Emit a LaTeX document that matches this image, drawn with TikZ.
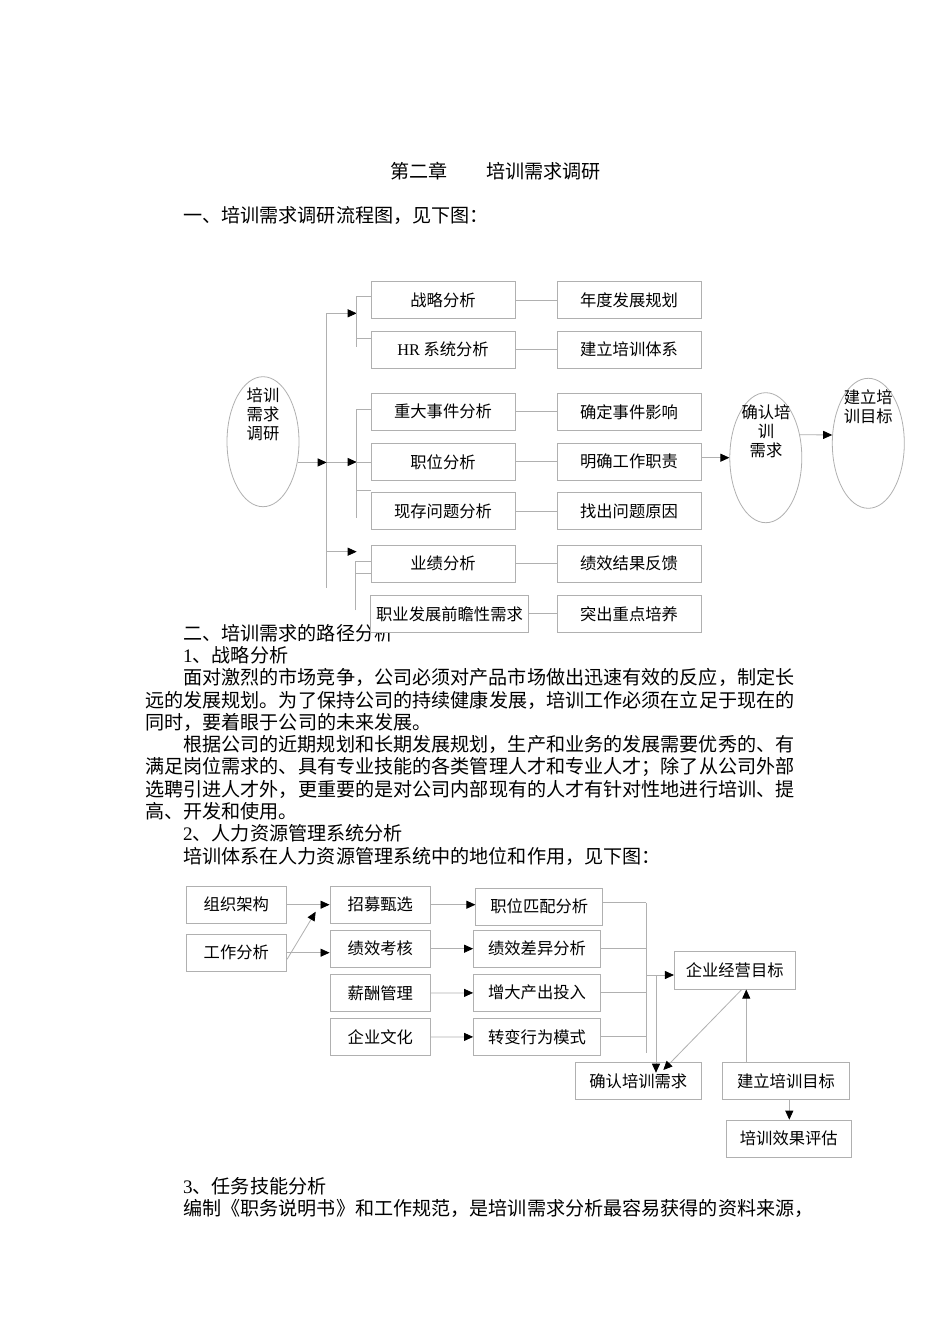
\documentclass[tikz,border=0pt]{standalone}
\usepackage{fontspec}
\setmainfont{Liberation Serif}
\newfontfamily\cjk{Noto Sans CJK SC}
\usetikzlibrary{arrows.meta,shapes.geometric}
\definecolor{linegray}{RGB}{176,176,176}
\newcommand\latn[1]{{\rmfamily #1}}
\tikzset{
  body/.style={anchor=west,inner sep=0pt,font=\cjk\fontsize{19.1}{22}\selectfont},
  stepbox/.style={draw=linegray,fill=white,line width=0.8pt,inner sep=0pt,minimum width=144pt,minimum height=36.7pt,font=\cjk\fontsize{16.3}{19}\selectfont},
  hrbox/.style={stepbox,minimum width=100.7pt,minimum height=37.3pt},
  resultbox/.style={stepbox,minimum width=127pt,minimum height=37.3pt},
  oval/.style={ellipse,draw=linegray,line width=0.8pt,minimum width=72pt,minimum height=130pt,inner sep=0pt},
  ovaltext/.style={align=center,inner sep=0pt,font=\cjk\fontsize{16.3}{19}\selectfont},
  link/.style={draw=linegray,line width=0.8pt},
  arr/.style={link,-{Triangle[length=9pt,width=8pt,color=black]}}
}
\begin{document}
\begin{tikzpicture}[x=1pt,y=-1pt]
  \fill[white] (0,0) rectangle (950,1344);
  \useasboundingbox (0,0) rectangle (950,1344);
  % page text
  \node[body] (title) at (390,171) {第二章\hspace{39pt}培训需求调研};
  \node[body] (head1) at (183,215) {一、培训需求调研流程图，见下图：};
  \node[body] (head2) at (183,633) {二、培训需求的路径分析};
  \node[body] (sec1) at (183,655.3) {\latn{1}、战略分析};
  \node[body] (par1a) at (183,677.6) {面对激烈的市场竞争，公司必须对产品市场做出迅速有效的反应，制定长};
  \node[body] (par1b) at (145,699.9) {远的发展规划。为了保持公司的持续健康发展，培训工作必须在立足于现在的};
  \node[body] (par1c) at (145,722.2) {同时，要着眼于公司的未来发展。};
  \node[body] (par2a) at (183,744.5) {根据公司的近期规划和长期发展规划，生产和业务的发展需要优秀的、有};
  \node[body] (par2b) at (145,766.8) {满足岗位需求的、具有专业技能的各类管理人才和专业人才；除了从公司外部};
  \node[body] (par2c) at (145,789.1) {选聘引进人才外，更重要的是对公司内部现有的人才有针对性地进行培训、提};
  \node[body] (par2d) at (145,811.4) {高、开发和使用。};
  \node[body] (sec2) at (183,833.7) {\latn{2}、人力资源管理系统分析};
  \node[body] (par3) at (183,856) {培训体系在人力资源管理系统中的地位和作用，见下图：};
  \node[body] (sec3) at (183,1186) {\latn{3}、任务技能分析};
  \node[body] (par4) at (183,1208) {编制《职务说明书》和工作规范，是培训需求分析最容易获得的资料来源，};

  % survey flow chart
  \node[stepbox] (strategy) at (443,300) {战略分析};
  \node[stepbox] (hrsys) at (443,349.7) {\latn{HR} 系统分析};
  \node[stepbox] (event) at (443,411.8) {重大事件分析};
  \node[stepbox] (jobpos) at (443,461.8) {职位分析};
  \node[stepbox] (problem) at (443,511.2) {现存问题分析};
  \node[stepbox] (perform) at (443,563.8) {业绩分析};
  \node[stepbox,minimum width=157.6pt] (career) at (449.5,613.8) {职业发展前瞻性需求};
  \node[stepbox] (yearplan) at (629,300) {年度发展规划};
  \node[stepbox] (system) at (629,349.7) {建立培训体系};
  \node[stepbox] (impact) at (629,411.8) {确定事件影响};
  \node[stepbox] (duty) at (629,461.8) {明确工作职责};
  \node[stepbox] (cause) at (629,511.2) {找出问题原因};
  \node[stepbox] (feedback) at (629,563.8) {绩效结果反馈};
  \node[stepbox] (focus) at (629,613.8) {突出重点培养};
  \node[oval] (survey) at (263,441.7) {};
  \node[ovaltext] (surveylabel) at (263,414) {培训\\需求\\调研};
  \node[oval] (confirm) at (765.8,457.7) {};
  \node[ovaltext] (confirmlabel) at (766,431.7) {确认培\\训\\需求};
  \node[oval] (goal) at (868.3,443.3) {};
  \node[ovaltext] (goallabel) at (868.3,407.2) {建立培\\训目标};
  \draw[link] (strategy) -- (yearplan);
  \draw[link] (hrsys) -- (system);
  \draw[link] (event) -- (impact);
  \draw[link] (jobpos) -- (duty);
  \draw[link] (problem) -- (cause);
  \draw[link] (perform) -- (feedback);
  \draw[link] (career) -- (focus);
  \coordinate (trunktop) at (326.7,313.3);
  \coordinate (trunkbot) at (326.7,588.3);
  \coordinate (forkA) at (356.7,313.3);
  \coordinate (forkB) at (356.7,462);
  \coordinate (forkC) at (356.7,551.7);
  \draw[link] (trunktop) -- (trunkbot);
  \draw[arr] (survey.-31) -- (survey.-31 -| trunktop);
  \draw[arr] (trunktop) -- (forkA);
  \draw[arr] (forkB -| trunktop) -- (forkB);
  \draw[arr] (forkC -| trunktop) -- (forkC);
  \draw[link] (forkB) -- (forkB -| jobpos.west);
  \coordinate (aTop) at (356.7,296.7);
  \coordinate (aBot) at (356.7,346.7);
  \coordinate (aTick) at (356.7,338.3);
  \draw[link] (aBot) -- (aTop) -- (aTop -| strategy.west);
  \draw[link] (aTick) -- (aTick -| hrsys.west);
  \coordinate (bTop) at (356.7,409.3);
  \coordinate (bBot) at (356.7,517.7);
  \coordinate (bTick) at (356.7,490.7);
  \draw[link] (bBot) -- (bTop) -- (bTop -| event.west);
  \draw[link] (bTick) -- (bTick -| problem.west);
  \coordinate (cTop) at (355,561.7);
  \coordinate (cBot) at (355,610);
  \coordinate (cTick) at (355,573.3);
  \draw[link] (cBot) -- (cTop) -- (cTop -| perform.west);
  \draw[link] (cTick) -- (cTick -| perform.west);
  \draw[arr] (duty.east |- confirm.west) -- (confirm.west);
  \draw[arr] (confirm.34) -- (goal.167);

  % hr system chart
  \node[hrbox] (orgchart) at (236.3,904.7) {组织架构};
  \node[hrbox] (jobana) at (236.3,952.7) {工作分析};
  \node[hrbox] (recruit) at (380.3,904.7) {招募甄选};
  \node[hrbox] (perfcheck) at (380.3,948.7) {绩效考核};
  \node[hrbox] (salary) at (380.3,993) {薪酬管理};
  \node[hrbox] (culture) at (380.3,1037) {企业文化};
  \node[resultbox] (match) at (539.3,906.7) {职位匹配分析};
  \node[resultbox] (gap) at (537,948.7) {绩效差异分析};
  \node[resultbox] (output) at (537,992.8) {增大产出投入};
  \node[resultbox] (behavior) at (537,1036.8) {转变行为模式};
  \node[resultbox,minimum width=120.7pt] (target) at (734.7,970.5) {企业经营目标};
  \node[resultbox,minimum width=126.7pt,minimum height=36.7pt] (needs) at (638.3,1081) {确认培训需求};
  \node[resultbox,minimum width=126.7pt,minimum height=36.7pt] (setgoal) at (786,1081) {建立培训目标};
  \node[resultbox,minimum width=125.7pt] (evaluate) at (788.8,1138.7) {培训效果评估};
  \draw[arr] (orgchart) -- (recruit);
  \draw[arr] (jobana.east) -- (jobana.east -| perfcheck.west);
  \coordinate (diagtip) at (315.7,911.7);
  \draw[arr] ([yshift=-6.6pt]jobana.east) -- (diagtip);
  \draw[arr] (recruit) -- (recruit -| match.west);
  \draw[arr] (perfcheck) -- (gap);
  \draw[arr] (salary) -- (output);
  \draw[arr] (culture) -- (behavior);
  \coordinate (bustop) at (646,902.7);
  \coordinate (busbot) at (646,1053.3);
  \draw[link] (bustop) -- (busbot);
  \draw[link] ([yshift=4pt]match.east) -- (bustop);
  \draw[link] (gap.east) -- (gap.east -| bustop);
  \draw[link] (output.east) -- (output.east -| bustop);
  \draw[link] (behavior.east) -- (behavior.east -| bustop);
  \coordinate (busmid) at (646,975);
  \draw[arr] (busmid) -- (busmid -| target.west);
  \coordinate (drop) at (656,975);
  \coordinate (droptip) at (656,1072.7);
  \draw[arr] (drop) -- (droptip);
  \coordinate (diagend) at (663.3,1070);
  \draw[arr] ([xshift=7pt]target.south) -- (diagend);
  \draw[arr] ([xshift=24pt]setgoal.north west) -- ([xshift=24pt]setgoal.north west |- target.south);
  \draw[arr] ([xshift=3.3pt]setgoal.south) -- ([xshift=3.3pt]setgoal.south |- evaluate.north);
\end{tikzpicture}
\end{document}
